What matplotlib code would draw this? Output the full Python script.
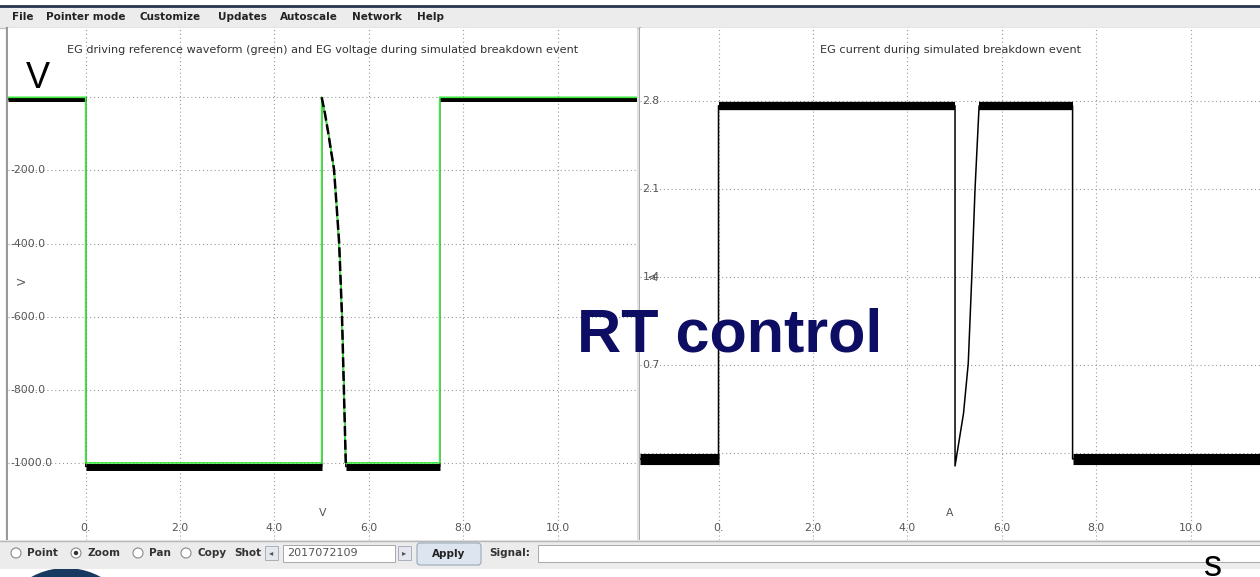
import numpy as np
import matplotlib
matplotlib.use("Agg")
import matplotlib.pyplot as plt
from matplotlib.patches import Rectangle, Circle, FancyBboxPatch

# ---- data ----
# left panel: EG voltage (black) and driving reference (green), time in s
t_ref = [-1.65, 0.0, 0.0, 5.0, 5.0, 5.07, 5.14, 5.20, 5.26, 5.317, 5.37, 5.43, 5.47, 5.51, 7.5, 7.5, 11.7]
v_ref = [0, 0, -1000, -1000, 0, -45, -98, -148, -196, -299, -399, -598, -798, -1000, -1000, 0, 0]

t_egv = [-1.65, 0.0, 0.0, 5.0, 5.0, 5.07, 5.14, 5.20, 5.26, 5.317, 5.37, 5.43, 5.47, 5.51, 5.51, 7.5, 7.5, 11.7]
v_egv = [-5, -5, -1010, -1010, 0, -45, -98, -148, -196, -299, -399, -598, -798, -1000, -1010, -1010, -5, -5]
bd_v = slice(4, 14)   # breakdown part of the voltage trace

# right panel: EG current
t_egi = [-1.67, 0.0, 0.0, 5.01, 5.01, 5.19, 5.29, 5.365, 5.434, 5.52, 7.5, 7.5, 11.5]
i_egi = [-0.05, -0.05, 2.76, 2.76, -0.106, 0.313, 0.71, 1.40, 2.10, 2.76, 2.76, -0.05, -0.05]

x_ticks = [0, 2, 4, 6, 8, 10]
x_labels = ["0.", "2.0", "4.0", "6.0", "8.0", "10.0"]
v_ticks = [0, -200, -400, -600, -800, -1000]
v_labels = ["", "-200.0", "-400.0", "-600.0", "-800.0", "-1000.0"]
i_ticks = [0, 0.7, 1.4, 2.1, 2.8]
i_labels = ["", "0.7", "1.4", "2.1", "2.8"]

menu_items = ["File", "Pointer mode", "Customize", "Updates", "Autoscale", "Network", "Help"]
menu_x = [12, 46, 140, 218, 280, 352, 417]

W, H = 1260, 577
fig = plt.figure(figsize=(W / 100, H / 100), dpi=100)
fig.patch.set_facecolor("white")

# background layer in pixel coords
bg = fig.add_axes([0, 0, 1, 1], zorder=0)
bg.set_xlim(0, W)
bg.set_ylim(H, 0)
bg.axis("off")

GRID = dict(color="#9a9a9a", lw=0.8, ls=(0, (1, 2.5)))
LBL = dict(fontsize=7.8, color="#555555", family="DejaVu Sans")


def px_axes(x0, y0, x1, y1):
    return fig.add_axes([x0 / W, 1 - y1 / H, (x1 - x0) / W, (y1 - y0) / H], zorder=1)


def dress(ax, xlim, ylim, yt, yl, title, unit, unit_y):
    ax.set_xlim(*xlim)
    ax.set_ylim(*ylim)
    ax.set_xticks([])
    ax.set_yticks([])
    for s in ax.spines.values():
        s.set_visible(False)
    for x in x_ticks:
        ax.axvline(x, zorder=0, **GRID)
    for y in yt:
        ax.axhline(y, zorder=0, **GRID)
    xt = ax.get_xaxis_transform()
    yt_tr = ax.get_yaxis_transform()
    for x, s in zip(x_ticks, x_labels):
        ax.text(x, 0.023, s, transform=xt, ha="center", va="center", **LBL)
    for y, s in zip(yt, yl):
        ax.text(0.004, y, s, transform=yt_tr, ha="left", va="center", **LBL)
    ax.text(0.5, 0.957, title, transform=ax.transAxes, ha="center", va="center",
            fontsize=8.1, color="#333333")
    ax.text(0.5, 0.053, unit, transform=ax.transAxes, ha="center", va="center", **LBL)
    ax.text(0.024, unit_y, unit, transform=ax.transAxes, ha="center", va="center",
            rotation=90, **LBL)


def bands(ax, t, y, lw_of):
    # flat parts of a trace are drawn thick to mimic the noise band
    for k in range(len(t) - 1):
        if y[k] == y[k + 1] and t[k + 1] > t[k]:
            ax.plot(t[k:k + 2], y[k:k + 2], color="black", lw=lw_of(y[k]),
                    solid_capstyle="butt", zorder=3)


# ---- left panel ----
axl = px_axes(8, 28, 637, 540)
dress(axl, (-1.646, 11.68), (-1211, 189.6), v_ticks, v_labels,
      "EG driving reference waveform (green) and EG voltage during simulated breakdown event",
      "V", 0.505)
axl.plot(t_egv, v_egv, color="black", lw=1.0, zorder=2)
bands(axl, t_egv, v_egv, lambda y: 3.6 if y > -500 else 5.0)
axl.plot(t_ref, v_ref, color="#3be83b", lw=1.2, zorder=4)
axl.plot(t_egv[bd_v], v_egv[bd_v], color="black", lw=1.8, ls=(0, (4, 1.5)), zorder=5)

# ---- right panel ----
axr = px_axes(640, 28, 1260, 540)
dress(axr, (-1.663, 11.47), (-0.695, 3.379), i_ticks, i_labels,
      "EG current during simulated breakdown event", "A", 0.515)
axr.plot(t_egi, i_egi, color="black", lw=1.1, zorder=2)
bands(axr, t_egi, i_egi, lambda y: 6.0 if y > 1 else 8.0)

# ---- window chrome ----
bg.plot([0, W], [5.5, 5.5], color="#2a3550", lw=2)
bg.add_patch(Rectangle((0, 6.5), W, 21, facecolor="#ececec", edgecolor="none"))
bg.plot([0, W], [27.5, 27.5], color="#c4c4c4", lw=1)
for s, x in zip(menu_items, menu_x):
    bg.text(x, 17, s, fontsize=7.5, fontweight="bold", color="#222222", ha="left", va="center")

# panel borders
bg.plot([7, 7], [28, 540], color="#9a9a9a", lw=1.6)
bg.add_patch(Rectangle((636, 28), 4, 512, facecolor="#e2e2e2", edgecolor="none"))
bg.plot([639.5, 639.5], [28, 540], color="#a0a0a0", lw=1.2)

# slide logo peeking under the window
bg.add_patch(Circle((66, 640), 72, facecolor="#183a60", edgecolor="none", zorder=1))

# bottom toolbar
bg.add_patch(Rectangle((0, 540), W, 29, facecolor="#ececec", edgecolor="none", zorder=2))
bg.plot([0, W], [540.5, 540.5], color="#b8b8b8", lw=1, zorder=3)
radio_x = [16, 76, 138, 186]
radio_lbl = ["Point", "Zoom", "Pan", "Copy"]
for x, s in zip(radio_x, radio_lbl):
    bg.add_patch(Circle((x, 553), 5, facecolor="white", edgecolor="#8a8a8a", lw=0.8, zorder=3))
    if s == "Zoom":
        bg.add_patch(Circle((x, 553), 2.2, facecolor="#333333", edgecolor="none", zorder=4))
    bg.text(x + 11, 553, s, fontsize=7.5, fontweight="bold", color="#333333",
            ha="left", va="center", zorder=4)
bg.text(234, 553, "Shot", fontsize=7.5, fontweight="bold", color="#333333",
        ha="left", va="center", zorder=4)
bg.add_patch(Rectangle((265, 546), 13, 14, facecolor="#e4e8ee", edgecolor="#a8b0bc", lw=0.7, zorder=3))
bg.text(271.5, 553, "\u25c2", fontsize=6, color="#555555", ha="center", va="center", zorder=4)
bg.add_patch(Rectangle((283, 545), 112, 17, facecolor="white", edgecolor="#a8a8a8", lw=0.7, zorder=3))
bg.text(287, 553.5, "2017072109", fontsize=8, color="#555555", ha="left", va="center", zorder=4)
bg.add_patch(Rectangle((398, 546), 13, 14, facecolor="#e4e8ee", edgecolor="#a8b0bc", lw=0.7, zorder=3))
bg.text(404.5, 553, "\u25b8", fontsize=6, color="#555555", ha="center", va="center", zorder=4)
bg.add_patch(FancyBboxPatch((417, 543), 64, 22, boxstyle="round,pad=0,rounding_size=3",
                            facecolor="#dde6f0", edgecolor="#9aa8b8", lw=0.8, zorder=3))
bg.text(449, 554, "Apply", fontsize=7.5, fontweight="bold", color="#222222",
        ha="center", va="center", zorder=4)
bg.text(489, 553, "Signal:", fontsize=7.5, fontweight="bold", color="#333333",
        ha="left", va="center", zorder=4)
bg.add_patch(Rectangle((538, 545), 730, 17, facecolor="white", edgecolor="#a8a8a8", lw=0.7, zorder=3))

# ---- slide overlay text ----
top = fig.add_axes([0, 0, 1, 1], zorder=3)
top.set_xlim(0, W)
top.set_ylim(H, 0)
top.axis("off")
top.patch.set_visible(False)
top.text(37.5, 88, "V", fontsize=26, family="Liberation Sans", color="black",
         ha="center", va="baseline")
top.text(730, 352, "RT control", fontsize=44, fontweight="bold", family="Liberation Sans",
         color="#0d0d63", ha="center", va="baseline")
top.text(1213, 576, "s", fontsize=26, family="Liberation Sans", color="black",
         ha="center", va="baseline")

fig.savefig("out.png", dpi=100)
